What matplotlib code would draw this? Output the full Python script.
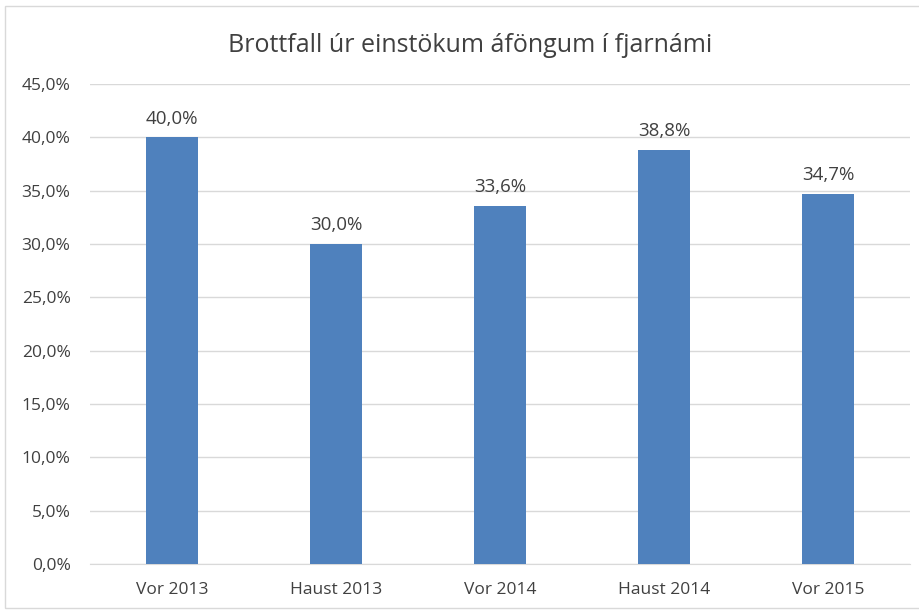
import matplotlib
matplotlib.use("Agg")
import matplotlib.pyplot as plt
from matplotlib.patches import Rectangle

categories = ["Vor 2013", "Haust 2013", "Vor 2014", "Haust 2014", "Vor 2015"]
values = [40.0, 30.0, 33.6, 38.8, 34.7]
labels = ["40,0%", "30,0%", "33,6%", "38,8%", "34,7%"]
yticks = [0, 5, 10, 15, 20, 25, 30, 35, 40, 45]
ytick_labels = ["0,0%", "5,0%", "10,0%", "15,0%", "20,0%", "25,0%", "30,0%", "35,0%", "40,0%", "45,0%"]
title = "Brottfall úr einstökum áföngum í fjarnámi"

plt.rcParams['font.family'] = ['Open Sans', 'DejaVu Sans']

W, H = 920, 612
fig = plt.figure(figsize=(W/100, H/100), dpi=100)
fig.patch.set_facecolor("white")
fig.patches.append(Rectangle((5/W, 4/H), 1.2, (608-6)/H, transform=fig.transFigure,
                             fill=False, edgecolor="#D9D9D9", linewidth=1))

ax = fig.add_axes([90/W, (612-564)/H, (910-90)/W, (564-84)/H])
x = list(range(len(categories)))
bars = ax.bar(x, values, width=0.315, color="#4F81BD", zorder=3)
ax.set_xlim(-0.5, len(categories) - 0.5)
ax.set_ylim(0, 45)
ax.set_yticks(yticks)
ax.set_yticklabels(ytick_labels)
ax.set_xticks(x)
ax.set_xticklabels(categories)
ax.grid(axis="y", color="#D9D9D9", linewidth=1, zorder=0)
for s in ["top", "right", "left"]:
    ax.spines[s].set_visible(False)
ax.spines["bottom"].set_color("#D9D9D9")
ax.tick_params(axis="both", length=0, labelsize=12.5, colors="#404040")
ax.tick_params(axis="y", pad=14)
ax.tick_params(axis="x", pad=13)
for xi, v, lab in zip(x, values, labels):
    ax.annotate(lab, (xi, v), xytext=(0, 7), textcoords="offset points",
                ha="center", va="bottom", fontsize=13.5, color="#404040")
fig.text(470/W, 1 - 45/H, title, ha="center", va="center", fontsize=18, color="#404040")

fig.savefig("out.png", dpi=100)
